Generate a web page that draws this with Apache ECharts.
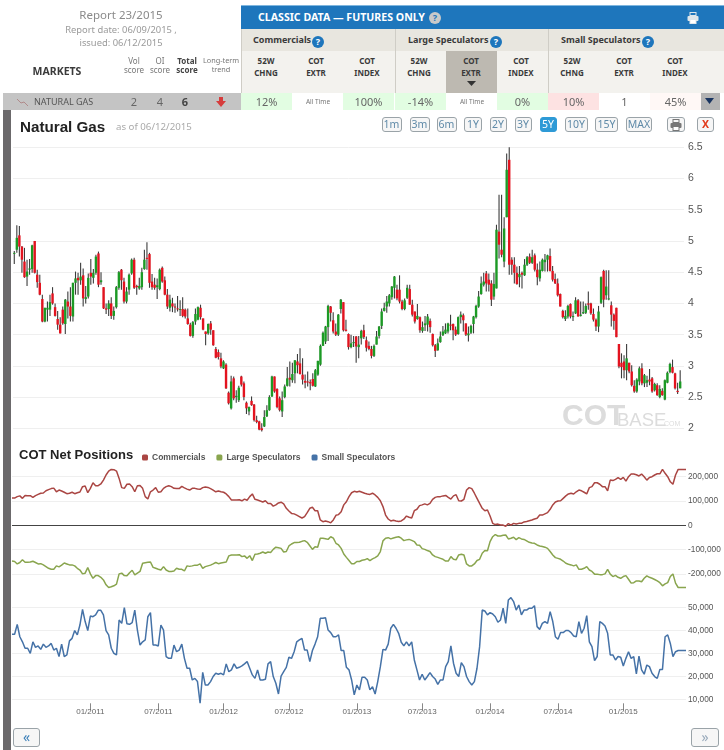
<!DOCTYPE html>
<html>
<head>
<meta charset="utf-8">
<title>Natural Gas</title>
<script src="https://cdn.jsdelivr.net/npm/echarts@6/dist/echarts.min.js"></script>
<style>
html,body{margin:0;padding:0;background:#fff;}
#page{position:relative;width:724px;height:750px;overflow:hidden;font-family:"Noto Sans",sans-serif;color:#555;}
#chart{position:absolute;left:0;top:0;width:724px;height:750px;}
.box{position:absolute;box-sizing:border-box;}
.t{position:absolute;white-space:nowrap;line-height:1;}
.c{transform:translateX(-50%);}
.help{position:absolute;width:12px;height:12px;border-radius:6px;background:#1e76bc;color:#fff;font:bold 9px/12px "Noto Sans";text-align:center;}
.btn{position:absolute;top:117px;height:15px;box-sizing:border-box;border:1px solid #9aa3a8;border-radius:3px;background:#f6f6f6;color:#5f8aa8;font:10.5px/13px "Noto Sans";text-align:center;}
</style>
</head>
<body>
<div id="page">
<div id="chart"></div>
<div id="head"></div>
</div>
<script>
// price, weekly
var opens = [4.80,4.86,5.09,4.91,4.67,4.43,4.54,4.55,5.00,4.46,4.33,4.07,3.71,3.90,3.90,4.16,3.94,3.75,3.66,3.90,
3.67,4.03,3.95,3.79,4.33,4.41,4.37,4.45,4.07,4.11,4.49,4.41,4.49,4.80,4.34,4.26,3.92,3.91,4.00,3.80,
3.94,4.25,4.54,4.35,4.03,4.22,4.48,4.70,4.28,4.24,4.26,4.55,4.73,4.79,4.35,4.30,4.26,4.23,4.57,4.37,
4.14,3.93,4.00,3.95,3.92,3.90,3.91,3.90,3.76,3.66,3.48,3.71,3.74,3.93,3.76,3.55,3.52,3.68,3.57,3.27,
3.22,3.12,2.96,3.02,2.57,2.32,2.80,2.50,2.45,2.83,2.72,2.41,2.27,2.44,2.38,2.13,2.11,2.00,2.03,2.19,
2.29,2.51,2.83,2.63,2.48,2.27,2.50,2.68,2.81,2.77,2.88,3.07,3.04,2.86,2.76,2.75,2.74,2.79,2.67,2.86,
3.02,3.32,3.39,3.62,3.95,3.73,3.55,3.50,3.91,4.02,3.58,3.51,3.30,3.37,3.47,3.30,3.44,3.57,3.41,3.32,
3.27,3.16,3.34,3.48,3.64,3.88,3.95,4.00,4.10,4.25,4.22,4.22,4.03,3.91,4.09,4.23,3.98,3.87,3.75,3.78,
3.56,3.65,3.66,3.72,3.51,3.33,3.25,3.38,3.49,3.52,3.55,3.66,3.67,3.58,3.51,3.78,3.81,3.68,3.49,3.53,
3.67,3.78,3.95,4.15,4.30,4.48,4.38,4.32,4.11,4.24,5.15,4.86,4.67,5.38,6.30,4.70,4.62,4.49,4.42,4.49,
4.45,4.62,4.75,4.65,4.77,4.54,4.40,4.52,4.66,4.70,4.76,4.52,4.39,4.32,4.15,3.88,3.75,3.79,3.99,3.78,
3.84,4.05,3.80,3.84,3.85,4.00,4.00,3.83,3.74,3.63,4.01,4.52,4.13,4.07,3.97,3.82,3.93,3.35,3.05,3.07,
2.93,3.05,2.91,2.68,2.59,2.75,2.96,2.72,2.73,2.78,2.80,2.61,2.69,2.50,2.60,2.46,2.73,2.90,2.98,2.88,
2.60,2.64];
var highs = [4.84,5.25,5.24,4.92,4.89,4.70,4.71,4.94,5.00,4.54,4.46,4.14,3.93,4.03,4.14,4.26,4.00,3.88,3.78,3.95,
4.07,4.19,4.26,4.33,4.51,4.49,4.65,4.56,4.28,4.48,4.71,4.55,4.78,4.83,4.50,4.26,4.00,4.05,4.10,3.95,
4.28,4.52,4.55,4.41,4.26,4.48,4.72,4.73,4.30,4.41,4.57,4.86,4.98,4.81,4.47,4.41,4.40,4.56,4.59,4.43,
4.23,4.14,4.09,4.00,4.12,4.05,4.10,3.92,3.92,3.69,3.72,3.92,3.95,3.98,3.76,3.55,3.68,3.72,3.57,3.30,
3.26,3.21,3.09,3.04,2.59,2.84,2.83,2.61,2.68,2.84,2.75,2.43,2.35,2.51,2.39,2.20,2.12,2.08,2.29,2.37,
2.53,2.84,2.83,2.64,2.51,2.59,2.70,2.98,3.07,3.05,3.09,3.19,3.28,3.12,2.86,2.91,2.78,2.88,2.95,3.08,
3.34,3.55,3.64,3.98,3.96,3.86,3.68,3.83,4.07,4.02,3.74,3.52,3.50,3.48,3.48,3.48,3.58,3.66,3.47,3.39,
3.32,3.34,3.56,3.64,3.92,4.01,4.12,4.15,4.28,4.44,4.30,4.45,4.06,4.08,4.30,4.30,4.06,3.87,3.99,3.79,
3.71,3.80,3.83,3.76,3.52,3.35,3.44,3.55,3.64,3.68,3.69,3.82,3.68,3.63,3.79,3.87,3.84,3.68,3.63,3.66,
3.80,3.98,4.20,4.43,4.49,4.52,4.48,4.37,4.49,5.26,5.74,5.74,5.38,6.40,6.50,4.74,4.74,4.59,4.60,4.51,
4.71,4.76,4.80,4.86,4.80,4.64,4.67,4.72,4.79,4.78,4.88,4.60,4.48,4.40,4.16,3.90,3.89,3.98,4.00,3.87,
4.10,4.07,4.03,4.03,4.00,4.19,4.01,3.92,3.76,3.96,4.43,4.54,4.53,4.53,4.03,3.84,3.93,3.35,3.20,3.17,
3.35,3.05,3.01,2.77,2.80,2.99,3.04,2.87,2.84,2.95,2.82,2.73,2.72,2.69,2.64,2.78,2.91,3.05,3.10,2.89,
2.73,2.93];
var lows = [4.63,4.81,4.75,4.49,4.41,4.28,4.46,4.49,4.48,4.25,4.13,3.70,3.70,3.71,3.80,3.98,3.79,3.58,3.52,3.66,
3.51,3.76,3.71,3.71,4.14,4.14,4.30,3.95,4.00,4.08,4.30,4.32,4.46,4.26,4.30,3.91,3.83,3.80,3.75,3.74,
3.92,4.22,4.22,4.00,4.00,4.14,4.46,4.23,4.14,4.22,4.22,4.54,4.54,4.25,4.22,4.22,4.07,4.21,4.33,4.13,
3.91,3.87,3.86,3.85,3.87,3.80,3.78,3.76,3.66,3.47,3.45,3.66,3.73,3.74,3.57,3.33,3.50,3.50,3.32,3.12,
3.10,2.96,2.95,2.63,2.38,2.30,2.45,2.41,2.42,2.67,2.45,2.23,2.21,2.36,2.11,2.08,1.97,1.95,2.02,2.18,
2.28,2.50,2.57,2.32,2.27,2.18,2.48,2.67,2.67,2.73,2.72,2.88,2.86,2.70,2.64,2.67,2.61,2.67,2.66,2.84,
3.00,3.32,3.35,3.40,3.71,3.52,3.48,3.48,3.84,3.55,3.55,3.26,3.28,3.30,3.05,3.12,3.34,3.43,3.23,3.25,
3.12,3.14,3.34,3.44,3.59,3.87,3.85,3.95,4.06,4.08,4.05,4.00,3.89,3.89,4.07,3.98,3.79,3.68,3.74,3.53,
3.53,3.56,3.55,3.53,3.31,3.14,3.24,3.37,3.48,3.51,3.52,3.57,3.41,3.48,3.50,3.68,3.55,3.48,3.39,3.51,
3.52,3.76,3.93,4.14,4.27,4.19,4.19,3.96,4.06,4.24,4.72,4.74,4.58,5.38,4.46,4.46,4.32,4.30,4.26,4.24,
4.44,4.60,4.63,4.63,4.51,4.29,4.35,4.51,4.51,4.51,4.51,4.35,4.31,4.11,3.95,3.76,3.72,3.76,3.76,3.72,
3.83,3.79,3.79,3.83,3.83,3.90,3.82,3.71,3.56,3.54,3.99,3.94,4.06,4.05,3.63,3.58,3.46,2.96,2.80,2.80,
2.77,2.88,2.67,2.57,2.57,2.69,2.69,2.66,2.66,2.69,2.57,2.59,2.52,2.48,2.52,2.45,2.72,2.88,2.88,2.62,
2.55,2.64];
var closes = [4.81,5.05,4.91,4.70,4.42,4.51,4.56,4.93,4.49,4.34,4.14,3.71,3.93,3.93,4.02,4.00,3.80,3.66,3.52,3.68,
4.06,3.95,3.80,4.33,4.40,4.37,4.43,4.08,4.10,4.41,4.43,4.49,4.75,4.30,4.37,3.92,3.90,4.00,3.80,3.88,
4.26,4.50,4.37,4.03,4.19,4.46,4.70,4.25,4.26,4.28,4.50,4.70,4.72,4.33,4.26,4.25,4.29,4.54,4.35,4.14,
3.95,4.06,3.95,3.94,3.91,3.91,3.80,3.79,3.67,3.48,3.70,3.83,3.94,3.78,3.58,3.51,3.67,3.58,3.33,3.13,
3.14,2.99,3.07,2.64,2.40,2.75,2.48,2.52,2.65,2.70,2.50,2.32,2.34,2.37,2.13,2.10,1.98,1.97,2.18,2.29,
2.50,2.83,2.59,2.34,2.29,2.45,2.67,2.80,2.78,2.87,3.09,3.01,2.87,2.78,2.73,2.74,2.72,2.68,2.93,3.08,
3.32,3.53,3.63,3.96,3.85,3.55,3.50,3.82,4.06,3.57,3.56,3.30,3.36,3.38,3.31,3.34,3.56,3.46,3.29,3.27,
3.16,3.32,3.47,3.63,3.87,3.93,4.03,4.13,4.27,4.43,4.08,4.03,3.91,4.05,4.25,3.98,3.82,3.71,3.80,3.57,
3.62,3.68,3.79,3.62,3.33,3.24,3.36,3.47,3.55,3.58,3.68,3.65,3.57,3.50,3.78,3.82,3.73,3.50,3.52,3.64,
3.79,3.96,4.11,4.32,4.35,4.32,4.30,4.06,4.31,5.18,4.94,4.78,5.20,6.14,4.62,4.62,4.49,4.31,4.47,4.46,
4.62,4.74,4.65,4.74,4.54,4.42,4.54,4.70,4.70,4.77,4.52,4.38,4.32,4.13,3.95,3.78,3.80,3.96,3.79,3.80,
4.05,3.79,3.82,3.86,3.96,3.98,3.84,3.74,3.63,3.87,4.42,4.06,4.27,4.08,3.82,3.72,3.46,2.99,2.98,2.93,
3.12,2.91,2.69,2.59,2.78,2.96,2.72,2.85,2.77,2.75,2.59,2.71,2.53,2.63,2.53,2.77,2.89,3.03,2.89,2.64,
2.58,2.75];

// net positions, thousands of contracts, one value a week
var commercials = [112,112,118,121,111,123,122,122,115,122,127,132,133,142,147,151,153,138,145,141,136,130,132,136,130,134,137,159,162,134,152,175,163,163,170,186,207,223,230,229,223,193,155,152,169,170,159,138,163,164,152,118,108,138,145,155,136,138,152,159,163,159,152,151,151,160,154,149,145,152,152,149,148,155,158,156,151,145,138,141,138,136,129,118,104,104,104,105,101,108,103,118,129,107,104,100,96,101,90,90,79,84,92,95,88,70,59,49,47,42,36,30,36,52,70,74,60,60,22,15,18,15,10,22,41,44,56,84,97,118,134,140,137,140,136,
132,129,127,132,125,115,101,77,42,26,18,21,18,16,18,25,38,33,30,60,66,81,84,88,84,90,107,115,118,118,121,123,115,108,121,126,101,100,107,145,155,151,132,111,90,70,60,63,38,8,3,5,1,1,-4,7,1,8,5,8,8,14,16,19,22,26,29,42,42,47,52,66,84,96,100,101,111,121,129,132,129,138,145,142,136,129,155,159,175,175,169,159,159,142,186,184,189,196,189,197,182,200,211,211,208,203,211,200,186,197,200,207,212,212,230,214,200,179,169,207,230,230,230,230];
var largeSpecs = [-147,-149,-159,-153,-142,-152,-152,-151,-148,-153,-159,-158,-163,-170,-177,-181,-181,-167,-171,-164,-155,-159,-163,-163,-167,-177,-184,-200,-197,-174,-200,-218,-207,-207,-214,-225,-245,-256,-253,-249,-242,-200,-197,-207,-208,-195,-185,-204,-197,-190,-156,-154,-152,-151,-173,-177,-181,-184,-170,-184,-190,-190,-188,-177,-181,-181,-188,-167,-169,-167,-164,-164,-159,-177,-170,-167,-164,-159,-153,-158,-155,-153,-151,-126,-122,-122,-122,-121,-129,-126,-136,-125,-145,-119,-118,-115,-110,-115,-110,-112,-99,-90,-92,-95,-110,-108,-85,-77,-71,-71,-70,-66,-63,-70,-84,-99,-88,-90,-53,-53,-55,-58,-47,-53,-74,-81,-95,-118,-132,-145,-158,-158,-149,-149,
-144,-142,-137,-145,-138,-133,-126,-108,-64,-53,-51,-56,-52,-49,-47,-53,-63,-60,-58,-62,-67,-81,-82,-96,-99,-104,-108,-122,-129,-132,-136,-140,-147,-147,-129,-140,-142,-122,-119,-122,-159,-167,-167,-159,-145,-140,-115,-104,-105,-67,-47,-38,-44,-44,-41,-40,-56,-53,-49,-59,-51,-56,-58,-64,-70,-73,-74,-81,-85,-87,-90,-95,-108,-122,-133,-136,-140,-147,-156,-160,-163,-167,-163,-181,-181,-177,-170,-184,-190,-201,-201,-203,-203,-200,-181,-201,-211,-206,-214,-218,-211,-207,-222,-238,-236,-229,-229,-232,-218,-208,-214,-218,-223,-229,-236,-249,-241,-236,-211,-200,-238,-256,-256,-256,-256];
var smallSpecs = [38.3,38.3,42.6,37.2,35,32.2,32.2,30,35,32.6,33.2,31.7,34,32.6,33.2,34.3,31.4,32.2,28.6,34,28.6,29.3,35.4,36.5,39.9,38,42.3,49.1,43.8,39.9,46.2,45.9,46.7,48.7,48.7,46.7,39.9,38,32.2,30,29.3,44.5,43,49.9,42.8,42.6,43.3,48.8,40.1,33.6,35,35.8,45.9,47.7,33.6,33.6,33.2,42.3,40.1,28.6,27.8,27.8,33.6,30.7,31.4,34,27.8,23.5,23.5,18.4,19.1,17.7,8.3,21.7,16.2,16.2,17.7,19.9,21.3,20.9,21.3,20.6,25.4,22,22.8,25.4,23.5,23.9,24.5,25.4,26.4,23.5,20.6,19.1,22.8,18.4,18.4,18.7,25.4,26.4,19.9,17,12.3,20.1,22,23.9,28.3,27.8,30.7,35,35.8,36.5,31.4,31.4,26.4,31.2,34,37.2,45.2,45.2,45.5,40.1,39,37.2,37.2,38,31.2,31.2,23.9,22.8,18.4,11.9,16.2,
14.1,19.6,19.6,18.4,14.1,15.5,12.3,17.7,24.2,31.7,31.4,34,40.9,42.6,40.9,38.7,34.8,33.2,35,33.2,35,27.1,22.8,18.4,20.9,18.4,19.9,21.6,19.9,18.8,16.5,18.4,18.4,24.2,26.4,33.2,25.7,21.3,19.9,25.9,24.2,19.9,17.7,16.2,17.7,23.5,32.9,48.8,48.4,46.7,47.7,47.1,45.9,43.5,44.5,49.6,43,53.2,54.2,52.5,48.8,51,46.7,48.8,48.8,49.6,49.6,50.7,41.6,40.4,43,43.8,43,48.1,43.8,37.2,36.1,39,39,39.9,39.9,39,37.5,37.2,43.8,38.7,40.9,46.4,35,32.9,26.8,28.6,43.8,43,41.9,38.7,29.3,29.3,27.1,28.6,28.3,24.5,27.8,30.7,27.8,28.6,21,28.8,22.8,20.9,24.9,24.2,21.3,19.9,19.1,23,23,37.2,38,34.3,28.6,30.7,31.2,31.2,31.2,31.2];
var netNames = ['Commercials','Large Speculators','Small Speculators'];
var netColors = ['#aa4643','#89a54e','#4572a7'];

// dates under the bottom chart and the week each one falls on
var dateLabels = ['01/2011','07/2011','01/2012','07/2012','01/2013','07/2013','01/2014','07/2014','01/2015'];
var dateWeeks = [30,56,81,106,132,157,183,209,234];

// header table
var leftCols = [['Vol','score',134,false],['OI','score',160,false],['Total','score',187,true],['Long-term','trend',221,false]];
var leftVals = [['2',134,false],['4',160,false],['6',185,true]];
var groups = [['Commercials',253,318],['Large Speculators',408,496],['Small Speculators',561,648]];
var colTop = ['52W','COT','COT','52W','COT','COT','52W','COT','COT'];
var colBottom = ['CHNG','EXTR','INDEX','CHNG','EXTR','INDEX','CHNG','EXTR','INDEX'];
var colCenters = [266,316,367,419,471,521,572,624,675];
var cellLeft = [241,292,343,395,446,497,548,599,650];
var cellVals = ['12%','All Time','100%','-14%','All Time','0%','10%','1','45%'];
var cellBg = ['#e2fde2','#fff','#e2fde2','#e2fde2','#fff','#e2fde2','#fde2e2','#fff','#fff8f6'];
var ranges = ['1m','3m','6m','1Y','2Y','3Y','5Y','10Y','15Y','MAX'];
var rangeCenters = [391.5,419.5,446.5,473,498,523,548,576,606.5,639];
var rangeWidths = [20,20,20,18,17,17,17,23,23,26];

function box(x,y,w,h,bg,extra){
    return '<div class="box" style="left:'+x+'px;top:'+y+'px;width:'+w+'px;height:'+h+'px;background:'+bg+';'+(extra||'')+'"></div>';
}
function txt(x,y,s,size,color,bold,center,font){
    return '<div class="t'+(center?' c':'')+'" style="left:'+x+'px;top:'+y+'px;font-size:'+size+'px;color:'+color+';'+(bold?'font-weight:bold;':'')+(font?'font-family:'+font+';':'')+'">'+s+'</div>';
}
function printer(x,y,color){
    return '<svg class="box" style="left:'+x+'px;top:'+y+'px" width="12" height="12" viewBox="0 0 12 12"><rect x="3" y="0.5" width="6" height="3" fill="none" stroke="'+color+'"/><rect x="0.5" y="4" width="11" height="5" rx="1" fill="'+color+'"/><rect x="3" y="7.5" width="6" height="4" fill="#fff" stroke="'+color+'"/></svg>';
}
var h = '';
h += txt(121,9,'Report 23/2015',11.5,'#8a8a8a',false,true);
h += txt(121,25,'Report date: 06/09/2015 ,',9.4,'#9a9a9a',false,true);
h += txt(121,38,'issued: 06/12/2015',9.4,'#9a9a9a',false,true);
h += txt(57,66,'MARKETS',10.5,'#3a3a3a',true,true);
leftCols.forEach(function(c){
    var size = c[0]=='Long-term' ? 7.3 : 8;
    h += txt(c[2],57,c[0],size,c[3]?'#444':'#777',c[3],true);
    h += txt(c[2],66,c[1],size,c[3]?'#444':'#777',c[3],true);
});
h += box(241,5,483,24,'#1e76bc','border-top:1px solid #7fb6de;');
h += txt(258,12,'CLASSIC DATA &mdash; FUTURES ONLY',10.6,'#fff',true,false);
h += '<div class="help" style="left:429px;top:12px;background:#c9c9c9;color:#1e76bc;">?</div>';
h += printer(687,12,'#dfe6ea');
h += box(241,29,483,22,'#e8e6df');
h += box(241,51,483,42,'#f3f2ee');
h += box(241,29,1,64,'#cfcdc6');
h += box(395,29,1,64,'#cfcdc6');
h += box(548,29,1,64,'#cfcdc6');
h += box(446,51,51,42,'#bdb9b1');
h += '<svg class="box" style="left:467px;top:81px" width="9" height="5"><path d="M0 0H9L4.5 5Z" fill="#333"/></svg>';
groups.forEach(function(g){
    h += txt(g[1],35,g[0],9,'#3a3a3a',true,false);
    h += '<div class="help" style="left:'+(g[2]-6)+'px;top:36px;">?</div>';
});
colCenters.forEach(function(x,i){
    h += txt(x,57,colTop[i],8,'#3a3a3a',true,true);
    h += txt(x,69,colBottom[i],8,'#3a3a3a',true,true);
});
h += box(2.5,93,238.5,17,'#c4c4c4');
h += '<svg class="box" style="left:17px;top:96px" width="11" height="11"><path d="M0 3L4 7L7 6L11 10" fill="none" stroke="#b08a8a"/></svg>';
h += txt(34,97,'NATURAL GAS',9,'#555',false,false);
leftVals.forEach(function(v){
    h += txt(v[1],96,v[0],11,v[2]?'#444':'#666',v[2],true);
});
h += '<svg class="box" style="left:216px;top:97px" width="10" height="10"><path d="M3 0H7V4H10L5 10L0 4H3Z" fill="#d63c3c"/></svg>';
cellLeft.forEach(function(x,i){
    h += box(x,93,51,17,cellBg[i]);
    if(cellVals[i]=='All Time'){
        h += txt(x+26,99,cellVals[i],6.5,'#777',false,true);
    }else{
        h += txt(x+25.5,96,cellVals[i],11,'#666',false,true);
    }
});
h += box(701,93,19,17,'#b3b3b3');
h += '<svg class="box" style="left:705px;top:98px" width="9" height="6"><path d="M0 0H9L4.5 6Z" fill="#1a3560"/></svg>';
h += box(2.5,110,8.5,640,'#6b696b');
h += txt(20,119,'Natural Gas',15.2,'#222',true,false,"'Liberation Sans'");
h += txt(116,122,'as of 06/12/2015',9.7,'#aaa',false,false);
ranges.forEach(function(r,i){
    var on = r=='5Y';
    h += '<div class="btn" style="left:'+(rangeCenters[i]-rangeWidths[i]/2)+'px;width:'+rangeWidths[i]+'px;'+(on?'background:#2e9ad6;border-color:#2e9ad6;color:#fff;':'')+'">'+r+'</div>';
});
h += '<div class="btn" style="left:667px;width:18px;"></div>'+printer(670,118.5,'#777');
h += '<div class="btn" style="left:697px;width:17px;color:#e23b1c;font-weight:bold;">X</div>';
h += '<div class="btn" style="left:13px;top:728px;width:27px;height:19px;color:#3b7fb8;font-size:14px;line-height:15px;">&laquo;</div>';
h += '<div class="btn" style="left:691px;top:728px;width:28px;height:19px;color:#9ab;font-size:14px;line-height:15px;">&raquo;</div>';
document.getElementById('head').innerHTML = h;

var priceCats = [];
var candles = [];
for(var i=0;i<=opens.length;i++){
    priceCats.push(i);
    if(i<opens.length) candles.push([i,opens[i],closes[i],lows[i],highs[i]]);
}
var lineCats = [];
for(var w=0;w<commercials.length;w++){
    var at = dateWeeks.indexOf(w);
    lineCats.push(at>=0 ? dateLabels[at] : '');
}
function isDated(i,v){ return v!==''; }
function contracts(v){ return Math.abs(v)>=300 ? '' : (v*1000).toLocaleString('en-US'); }
var lineGrid = '#efefef';
var smallFont = {fontFamily:'Liberation Sans',fontSize:8.3,color:'#555'};

function drawCandle(params,api){
    var x = api.coord([api.value(0),0])[0];
    var o = api.coord([0,api.value(1)])[1];
    var c = api.coord([0,api.value(2)])[1];
    var l = api.coord([0,api.value(3)])[1];
    var hi = api.coord([0,api.value(4)])[1];
    var up = api.value(2)>=api.value(1);
    return {type:'group',children:[
        {type:'line',shape:{x1:x,y1:hi,x2:x,y2:l},style:{stroke:'#3c3c3c',lineWidth:1.1}},
        {type:'rect',shape:{x:x-1.2,y:Math.min(o,c),width:2.4,height:Math.max(Math.abs(o-c),1)},style:{fill:up?'#1c9a25':'#e3131f'}}
    ]};
}

var chart = echarts.init(document.getElementById('chart'));
chart.setOption({
    animation:false,
    title:{text:'COT Net Positions',left:19,top:449,padding:0,textStyle:{fontFamily:'Liberation Sans',fontSize:13,fontWeight:'bold',color:'#222'}},
    legend:{left:142,top:453,padding:0,data:netNames,icon:'roundRect',itemWidth:6,itemHeight:6,itemGap:11,itemStyle:{borderWidth:0},
        textStyle:{fontFamily:'Liberation Sans',fontSize:8.5,fontWeight:'bold',color:'#555',padding:[0,0,0,-1]}},
    grid:[
        {left:13,top:147.3,width:671,height:281,outerBoundsMode:'none'},
        {left:12,top:452.4,width:674,height:145.8,outerBoundsMode:'none'},
        {left:12,top:584.3,width:674,height:138,outerBoundsMode:'none'}
    ],
    xAxis:[
        {gridIndex:0,type:'category',data:priceCats,show:false},
        {gridIndex:1,type:'category',data:lineCats,boundaryGap:false,show:false},
        {gridIndex:2,type:'category',data:lineCats,boundaryGap:false,offset:-19,
            axisLine:{show:false},
            axisTick:{show:true,length:7,interval:isDated,lineStyle:{color:'#888'}},
            axisLabel:{interval:isDated,margin:4,fontFamily:'Liberation Sans',fontSize:8,color:'#666'}}
    ],
    yAxis:[
        {gridIndex:0,type:'value',position:'right',min:2,max:6.5,interval:0.5,
            axisLine:{show:false},axisTick:{show:false},axisLabel:{margin:4,padding:[3,0,0,0],fontFamily:'Liberation Sans',fontSize:10.5,color:'#555'},
            splitLine:{lineStyle:{color:lineGrid}}},
        {gridIndex:1,type:'value',position:'right',min:-300,max:300,interval:100,
            axisLine:{show:false},axisTick:{show:false},axisLabel:Object.assign({margin:2,formatter:contracts},smallFont),
            splitLine:{lineStyle:{color:['transparent',lineGrid,lineGrid,'#444',lineGrid,lineGrid,'transparent']}}},
        {gridIndex:2,type:'value',position:'right',min:0,max:60,interval:10,
            axisLine:{show:false},axisTick:{show:false},axisLabel:Object.assign({margin:2,formatter:function(v){return v==0||v==60?'':(v*1000).toLocaleString('en-US');}},smallFont),
            splitLine:{lineStyle:{color:['transparent',lineGrid,lineGrid,lineGrid,lineGrid,lineGrid,'transparent']}}}
    ],
    graphic:[
        {type:'text',left:562,top:402,silent:true,style:{text:'COT',fontFamily:'Liberation Sans',fontWeight:'bold',fontSize:30,fill:'#dcdcdc'}},
        {type:'text',left:617,top:411,silent:true,style:{text:'BASE',fontFamily:'Liberation Sans',fontSize:18.5,fill:'#dcdcdc'}},
        {type:'text',left:662,top:421,silent:true,style:{text:'.COM',fontFamily:'Liberation Sans',fontSize:7,fill:'#dddddd'}}
    ],
    series:[
        {type:'custom',name:'Natural Gas',xAxisIndex:0,yAxisIndex:0,data:candles,renderItem:drawCandle,encode:{x:0,y:[1,2,3,4]},clip:false},
        {type:'line',name:netNames[0],xAxisIndex:1,yAxisIndex:1,data:commercials,showSymbol:false,lineStyle:{width:1.5,color:netColors[0]},itemStyle:{color:netColors[0]}},
        {type:'line',name:netNames[1],xAxisIndex:1,yAxisIndex:1,data:largeSpecs,showSymbol:false,lineStyle:{width:1.5,color:netColors[1]},itemStyle:{color:netColors[1]}},
        {type:'line',name:netNames[2],xAxisIndex:2,yAxisIndex:2,data:smallSpecs,showSymbol:false,lineStyle:{width:1.5,color:netColors[2]},itemStyle:{color:netColors[2]}}
    ]
});
</script>
</body>
</html>
